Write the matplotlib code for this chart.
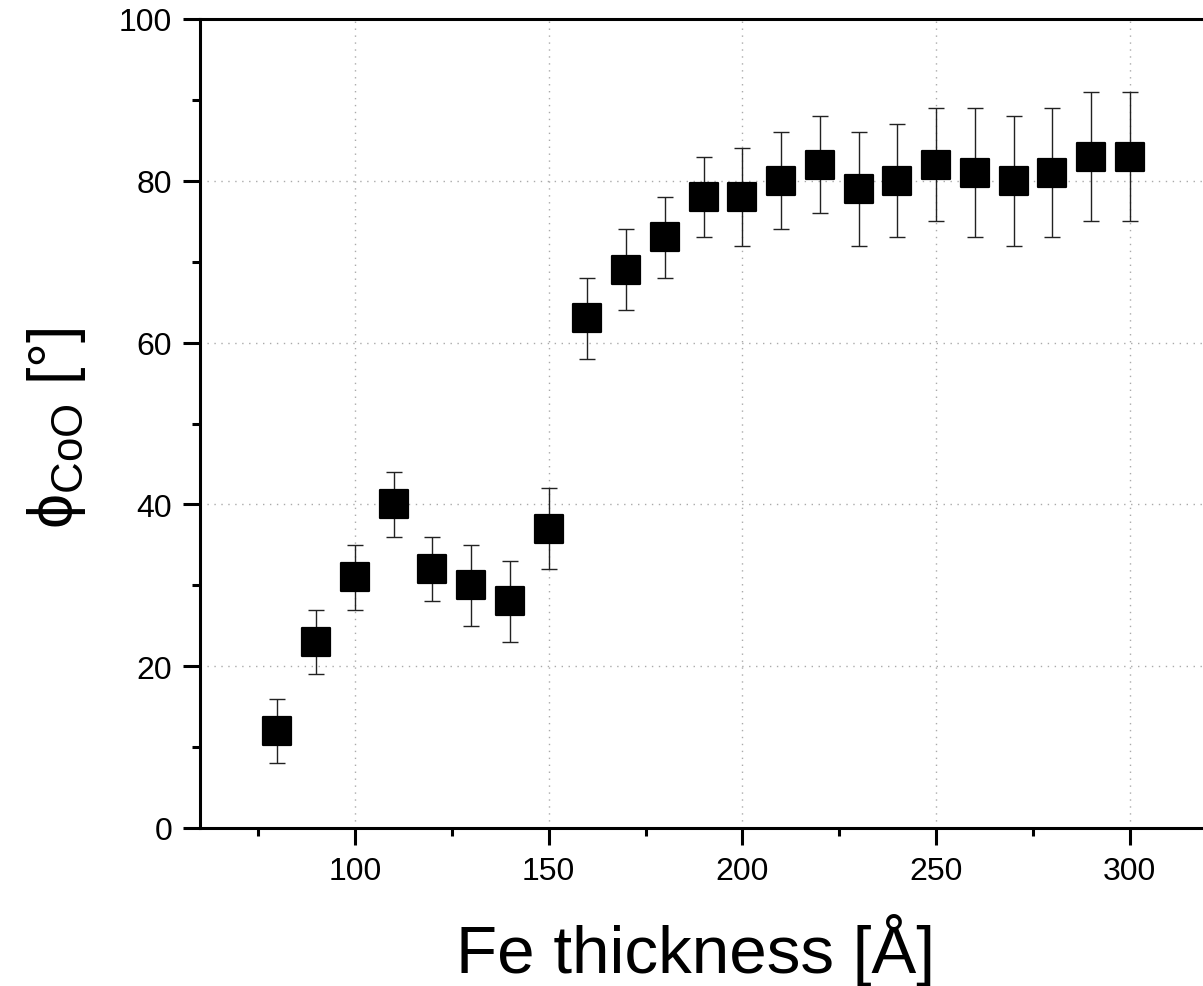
import matplotlib
matplotlib.use("Agg")
import matplotlib.pyplot as plt
from matplotlib.markers import MarkerStyle
from matplotlib.ticker import MultipleLocator

plt.rcParams['font.family'] = ['Liberation Sans', 'DejaVu Sans']
plt.rcParams['mathtext.fontset'] = 'custom'
plt.rcParams['mathtext.rm'] = 'Liberation Sans'

# Fe thickness [Å] and phi_CoO [deg]
thickness = [80, 90, 100, 110, 120, 130, 140, 150, 160, 170, 180, 190,
             200, 210, 220, 230, 240, 250, 260, 270, 280, 290, 300]
phi = [12, 23, 31, 40, 32, 30, 28, 37, 63, 69, 73, 78,
       78, 80, 82, 79, 80, 82, 81, 80, 81, 83, 83]
phi_err = [4, 4, 4, 4, 4, 5, 5, 5, 5, 5, 5, 5,
           6, 6, 6, 7, 7, 7, 8, 8, 8, 8, 8]

fig = plt.figure(figsize=(12.03, 9.87), dpi=100)
ax = fig.add_axes([200 / 1203, 158 / 987, 1046 / 1203, 809 / 987])

ax.errorbar(thickness, phi, yerr=phi_err, fmt='none', ecolor='#222222',
            elinewidth=1.0, capsize=5.5, capthick=1.0, zorder=2)
square = MarkerStyle('s', joinstyle='round')
ax.plot(thickness, phi, linestyle='none', marker=square, color='black',
        markersize=19.8, markeredgewidth=1.6, markeredgecolor='black', zorder=3)

ax.set_xlim(60, 330)
ax.set_ylim(0, 100)
ax.xaxis.set_major_locator(MultipleLocator(50))
ax.xaxis.set_minor_locator(MultipleLocator(25))
ax.yaxis.set_major_locator(MultipleLocator(20))
ax.yaxis.set_minor_locator(MultipleLocator(10))

ax.grid(True, which='major', color='#aaaaaa', linestyle=(0, (1, 4)), linewidth=1.0)
ax.set_axisbelow(True)

for side in ['left', 'bottom', 'top', 'right']:
    ax.spines[side].set_linewidth(2.2)
ax.tick_params(which='major', direction='out', length=12, width=2.2,
               labelsize=23)
ax.tick_params(axis='x', which='major', pad=8)
ax.tick_params(axis='y', which='major', pad=8)
ax.tick_params(which='minor', direction='out', length=6, width=2.2)
ax.tick_params(top=False, right=False, which='both')

fig.text(695 / 1203, 1 - 973 / 987, 'Fe thickness [Å]', fontsize=48.5,
         ha='center', va='baseline')
fig.text(56 / 1203, 1 - 428 / 987, '\u03d5$_{\\mathrm{CoO}}$ [°]', fontsize=45,
         rotation=90, ha='center', va='center')

plt.savefig('out.png', dpi=100)
